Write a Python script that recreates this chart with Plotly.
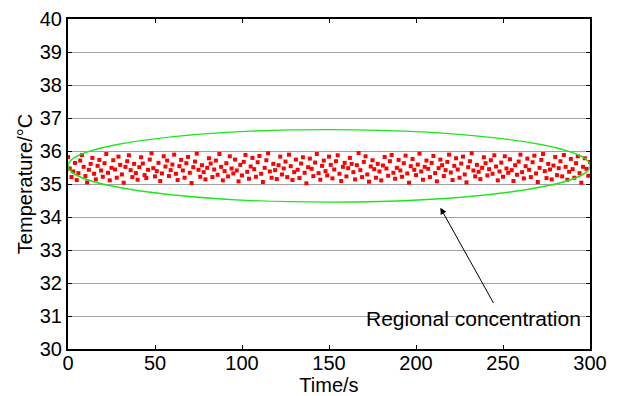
import plotly.graph_objects as go

time_s = list(range(0, 301))
temperature = [
    35.82, 35.47, 35.21, 35.38, 35.64, 35.12, 35.33, 35.71, 35.88, 35.52, 35.24, 35.05, 35.43, 35.61, 35.79, 35.31, 35.14, 35.55, 35.73, 35.41,
    35.22, 35.63, 35.91, 35.34, 35.11, 35.49, 35.72, 35.44, 35.19, 35.83, 35.58, 35.29, 35.04, 35.52, 35.69, 35.87, 35.42, 35.21, 35.61, 35.33,
    35.13, 35.51, 35.81, 35.62, 35.27, 35.18, 35.43, 35.74, 35.93, 35.48, 35.23, 35.39, 35.64, 35.09, 35.32, 35.84, 35.53, 35.71, 35.24, 35.42,
    35.59, 35.89, 35.31, 35.12, 35.54, 35.73, 35.41, 35.19, 35.63, 35.82, 35.34, 35.03, 35.51, 35.68, 35.92, 35.43, 35.22, 35.57, 35.36, 35.14,
    35.49, 35.78, 35.62, 35.21, 35.44, 35.71, 35.28, 35.91, 35.52, 35.11, 35.39, 35.63, 35.23, 35.84, 35.47, 35.32, 35.74, 35.41, 35.08, 35.58,
    35.26, 35.67, 35.88, 35.37, 35.16, 35.53, 35.79, 35.45, 35.22, 35.66, 35.85, 35.31, 35.06, 35.49, 35.72, 35.93, 35.38, 35.19, 35.61, 35.42,
    35.15, 35.57, 35.83, 35.29, 35.47, 35.68, 35.21, 35.89, 35.54, 35.12, 35.36, 35.74, 35.43, 35.18, 35.62, 35.81, 35.34, 35.02, 35.51, 35.77,
    35.46, 35.24, 35.65, 35.91, 35.33, 35.13, 35.55, 35.71, 35.39, 35.26, 35.83, 35.58, 35.17, 35.44, 35.69, 35.87, 35.31, 35.09, 35.52, 35.64,
    35.23, 35.48, 35.79, 35.61, 35.36, 35.14, 35.57, 35.94, 35.42, 35.21, 35.67, 35.84, 35.29, 35.07, 35.53, 35.72, 35.45, 35.19, 35.61, 35.38,
    35.11, 35.56, 35.82, 35.47, 35.25, 35.69, 35.88, 35.34, 35.16, 35.49, 35.73, 35.41, 35.22, 35.63, 35.86, 35.32, 35.04, 35.54, 35.76, 35.43,
    35.27, 35.59, 35.92, 35.38, 35.13, 35.52, 35.71, 35.46, 35.21, 35.64, 35.85, 35.33, 35.08, 35.48, 35.74, 35.57, 35.24, 35.42, 35.67, 35.89,
    35.35, 35.12, 35.55, 35.78, 35.44, 35.19, 35.62, 35.83, 35.29, 35.05, 35.51, 35.69, 35.93, 35.41, 35.23, 35.58, 35.37, 35.15, 35.49, 35.81,
    35.63, 35.26, 35.45, 35.72, 35.31, 35.87, 35.53, 35.11, 35.38, 35.65, 35.22, 35.84, 35.47, 35.34, 35.75, 35.42, 35.09, 35.57, 35.28, 35.68,
    35.89, 35.36, 35.17, 35.54, 35.77, 35.43, 35.21, 35.66, 35.86, 35.32, 35.06, 35.49, 35.73, 35.91, 35.39, 35.18, 35.61, 35.44, 35.14, 35.56,
    35.82, 35.27, 35.48, 35.69, 35.23, 35.88, 35.52, 35.13, 35.37, 35.76, 35.45, 35.19, 35.63, 35.84, 35.33, 35.04, 35.52, 35.78, 35.46, 35.25,
    35.67,
]

ellipse_x = [0, 300]
ellipse_y = [34.45, 36.65]

arrow_head = (214, 34.28)
arrow_tail = (245, 31.35)
label_pos = (233, 30.93)
label_text = "Regional concentration"

y_ticks = list(range(30, 41))
x_ticks = list(range(0, 301, 50))

FONT = "Liberation Sans, Arial"

fig = go.Figure()
fig.add_trace(go.Scatter(
    x=time_s, y=temperature, mode="markers",
    marker=dict(color="#ff0000", size=4, symbol="square", line=dict(width=0)),
    showlegend=False, hoverinfo="skip",
))

fig.add_shape(type="circle", xref="x", yref="y",
              x0=ellipse_x[0], x1=ellipse_x[1], y0=ellipse_y[0], y1=ellipse_y[1],
              line=dict(color="#1ee61e", width=1.3))

fig.add_annotation(x=arrow_head[0], y=arrow_head[1], ax=arrow_tail[0], ay=arrow_tail[1],
                   xref="x", yref="y", axref="x", ayref="y", text="",
                   showarrow=True, arrowhead=2, arrowsize=1.3, arrowwidth=1, arrowcolor="black")
fig.add_annotation(x=label_pos[0], y=label_pos[1], xref="x", yref="y", text=label_text,
                   showarrow=False,
                   font=dict(family=FONT, size=21, color="black"))

axis_common = dict(
    showline=True, linecolor="black", linewidth=2, mirror="ticks",
    ticks="inside", ticklen=4, tickcolor="black", zeroline=False, automargin=False,
    tickfont=dict(family=FONT, size=20, color="black"),
)
fig.update_xaxes(range=[0, 300], tickvals=x_ticks, showgrid=False, ticklabelstandoff=-5,
                 title=dict(text="Time/s", standoff=0, font=dict(family=FONT, size=20, color="black")),
                 **axis_common)
fig.update_yaxes(range=[30, 40], tickvals=y_ticks, showgrid=True, gridcolor="#a0a0a0", gridwidth=1,
                 title=dict(text="Temperature/°C", standoff=2, font=dict(family=FONT, size=20, color="black")),
                 **axis_common)

fig.update_layout(
    width=619, height=396,
    margin=dict(l=68, r=29, t=19, b=47),
    plot_bgcolor="white", paper_bgcolor="white",
)

fig.write_html("out.html")
